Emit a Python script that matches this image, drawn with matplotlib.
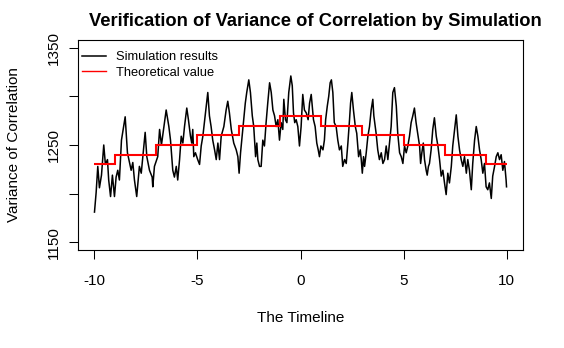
import matplotlib
matplotlib.use("Agg")
import matplotlib.pyplot as plt

plt.rcParams['font.family'] = ['Liberation Sans', 'DejaVu Sans']

# --- dati ---
sim_x = [-10.00, -9.92, -9.84, -9.76, -9.66, -9.55, -9.47, -9.37, -9.31, -9.22,
         -9.13, -9.03, -8.95, -8.87, -8.79, -8.69, -8.51, -8.40, -8.22, -8.14,
         -8.06, -7.95, -7.82, -7.73, -7.54, -7.46, -7.33, -7.20, -7.17, -7.09,
         -6.93, -6.84, -6.75, -6.52, -6.39, -6.31, -6.20, -6.12,
         -6.03, -5.96, -5.87, -5.79, -5.71, -5.63, -5.52, -5.44, -5.34, -5.28,
         -5.23, -5.18, -5.10, -4.99, -4.90, -4.82, -4.74, -4.63, -4.50, -4.42,
         -4.34, -4.26, -4.17, -4.09, -4.01, -3.93, -3.85, -3.72, -3.61, -3.53,
         -3.45, -3.36, -3.24, -3.12, -3.04, -2.98, -2.91, -2.85, -2.77, -2.68,
         -2.61, -2.51, -2.43, -2.34, -2.27, -2.18, -2.12, -2.07, -1.99,
         -1.91, -1.83, -1.75, -1.67, -1.59, -1.50, -1.42, -1.34, -1.26, -1.18,
         -1.10, -1.02, -0.94, -0.86, -0.81, -0.73, -0.66, -0.57, -0.47, -0.40,
         -0.34, -0.28, -0.21, -0.13, -0.05, 0.03, 0.11, 0.19, 0.28, 0.37,
         0.44, 0.52, 0.57, 0.63, 0.71, 0.79, 0.86, 0.92, 0.99, 1.09,
         1.16, 1.22, 1.30, 1.37, 1.44, 1.50, 1.57, 1.64, 1.73, 1.81,
         1.89, 1.98, 2.05, 2.14,
         2.22, 2.30, 2.38, 2.43, 2.49, 2.57, 2.66, 2.73, 2.82, 2.90,
         2.95, 3.00, 3.06, 3.11, 3.19, 3.27, 3.35, 3.43, 3.51, 3.56,
         3.63, 3.67, 3.75, 3.83, 3.92, 4.00, 4.08, 4.16, 4.24, 4.32,
         4.40, 4.48, 4.56, 4.65, 4.72, 4.81, 4.89, 4.97, 5.05, 5.13,
         5.21, 5.29, 5.37, 5.45, 5.53, 5.61, 5.69, 5.78, 5.83, 5.89,
         5.96, 6.02, 6.10, 6.15, 6.21, 6.26,
         6.34, 6.42, 6.50, 6.59, 6.67, 6.75, 6.83, 6.91, 6.99, 7.07,
         7.15, 7.23, 7.32, 7.39, 7.48, 7.56, 7.64, 7.72, 7.80, 7.88,
         7.96, 8.05, 8.12, 8.20, 8.29, 8.36, 8.45, 8.53, 8.61, 8.69,
         8.77, 8.85, 8.93, 9.01, 9.09, 9.17, 9.26, 9.33, 9.42, 9.50,
         9.58, 9.66, 9.74, 9.82, 9.90, 9.98, 10.00]
sim_y = [1181, 1201, 1228, 1206, 1219, 1250, 1230, 1235, 1214, 1197,
         1219, 1197, 1217, 1224, 1214, 1255, 1279, 1242, 1224, 1232,
         1214, 1197, 1228, 1221, 1263, 1238, 1224, 1217, 1207, 1228,
         1238, 1266, 1250, 1286, 1269, 1255, 1224, 1217,
         1228, 1214, 1235, 1259, 1252, 1269, 1288, 1276, 1259, 1252,
         1266, 1238, 1242, 1235, 1230, 1249, 1259, 1280, 1304, 1280,
         1269, 1255, 1245, 1235, 1252, 1235, 1259, 1269, 1286, 1295,
         1283, 1266, 1252, 1245, 1238, 1221, 1242, 1255, 1273, 1293,
         1304, 1317, 1304, 1280, 1269, 1238, 1252, 1235, 1228,
         1228, 1255, 1249, 1273, 1293, 1314, 1304, 1286, 1280, 1269,
         1276, 1255, 1273, 1266, 1297, 1276, 1273, 1304, 1321, 1311,
         1283, 1273, 1276, 1269, 1249, 1269, 1302, 1286, 1283, 1276,
         1293, 1302, 1290, 1276, 1269, 1252, 1245, 1238, 1249, 1245,
         1255, 1276, 1290, 1300, 1314, 1317, 1304, 1273, 1269, 1255,
         1245, 1249, 1228, 1235,
         1231, 1252, 1276, 1293, 1304, 1286, 1269, 1262, 1238, 1245,
         1235, 1221, 1238, 1228, 1242, 1259, 1269, 1286, 1297, 1280,
         1269, 1262, 1245, 1235, 1242, 1231, 1235, 1249, 1235, 1252,
         1269, 1304, 1309, 1290, 1262, 1242, 1238, 1231, 1249, 1242,
         1249, 1259, 1273, 1280, 1288, 1273, 1262, 1249, 1231, 1242,
         1252, 1235, 1224, 1219, 1228, 1231,
         1245, 1266, 1278, 1259, 1249, 1235, 1218, 1224, 1211, 1199,
         1221, 1211, 1228, 1249, 1266, 1281, 1259, 1245, 1235, 1228,
         1238, 1221, 1235, 1224, 1204, 1231, 1255, 1269, 1259, 1245,
         1235, 1221, 1231, 1207, 1204, 1211, 1195, 1218, 1228, 1238,
         1242, 1235, 1240, 1224, 1233, 1214, 1207]

# valore teorico (a gradini)
theo_edges = [-10, -9, -7, -5, -3, -1, 1, 3, 5, 7, 9, 10]
theo_values = [1230, 1240, 1250, 1260, 1270, 1280, 1270, 1260, 1250, 1240, 1230]

x_ticks = [-10, -5, 0, 5, 10]
y_ticks = [1150, 1200, 1250, 1300, 1350]
y_labels = ['1150', '', '1250', '', '1350']

# --- Plot ---
fig = plt.figure(figsize=(5.64, 3.48), dpi=100)
ax = fig.add_axes([78 / 564, 98 / 348, 445 / 564, 210 / 348])

ax.plot(sim_x, sim_y, color='black', lw=1.1, label='Simulation results')
ax.stairs(theo_values, theo_edges, baseline=None, color='red', lw=1.5, zorder=3)
ax.plot([], [], color='red', lw=1.0, label='Theoretical value')

ax.set_xlim(-10.8, 10.8)
ax.set_ylim(1142, 1358)
ax.set_xticks(x_ticks)
ax.set_xticklabels([str(t) for t in x_ticks])
ax.set_yticks(y_ticks)
ax.set_yticklabels(y_labels, rotation=90, va='center')
ax.tick_params(axis='both', direction='out', length=6.5, width=0.75,
               labelsize=11, color='black')
ax.tick_params(axis='x', pad=10.5)
ax.tick_params(axis='y', pad=5.5)
for s in ax.spines.values():
    s.set_linewidth(0.8)

ax.set_title('Verification of Variance of Correlation by Simulation',
             fontsize=13.2, fontweight='bold', pad=10, x=0.534)
ax.set_xlabel('The Timeline', fontsize=11)
ax.xaxis.set_label_coords(0.5, -0.29)
ax.set_ylabel('Variance of Correlation', fontsize=11)
ax.yaxis.set_label_coords(-0.128, 0.5)

ax.legend(loc='upper left', bbox_to_anchor=(0.01, 0.946), frameon=False,
          fontsize=9.3, handlelength=1.8, handletextpad=0.8,
          borderpad=0, borderaxespad=0, labelspacing=0.25)

plt.savefig('out.png', dpi=100)
